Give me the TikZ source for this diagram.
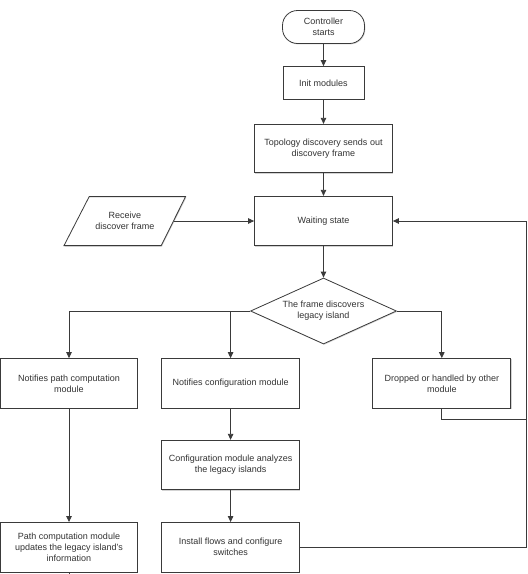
\documentclass[tikz,border=0pt]{standalone}
\usepackage{fontspec}
\setmainfont{Liberation Sans}
\usetikzlibrary{shapes.geometric,arrows.meta,shadows}
\definecolor{ln}{HTML}{3A3A3A}
\definecolor{tx}{HTML}{333333}
\begin{document}
\begin{tikzpicture}[x=1pt,y=-1pt,
  font=\fontsize{9}{11}\selectfont,
  box/.style={draw=ln,line width=0.8pt,fill=white,text=tx,align=center,inner sep=1pt,
    drop shadow={shadow xshift=0.8pt,shadow yshift=-0.9pt,opacity=0.35}},
  stepbox/.style={box,rectangle,minimum width=#1,minimum height=49.5pt},
  arr/.style={draw=ln,line width=0.8pt,-{Triangle[length=6pt,width=5.5pt]}},
  ln/.style={draw=ln,line width=0.8pt}]
\useasboundingbox (0,0) rectangle (528,574);
\node[box,rectangle,rounded corners=15pt,minimum width=82pt,minimum height=33pt] (start) at (323.5,27) {Controller\\starts};
\node[box,rectangle,minimum width=81pt,minimum height=33pt] (init) at (323.5,83) {Init modules};
\node[box,rectangle,minimum width=138pt,minimum height=48.5pt] (topo) at (323.5,148.5) {Topology discovery sends out\\discovery frame};
\node[stepbox=138pt] (wait) at (323.5,221) {Waiting state};
\path[draw=ln,line width=0.8pt,fill=white,drop shadow={shadow xshift=0.8pt,shadow yshift=-0.9pt,opacity=0.35}]
  (89.2,196.6) -- (185.6,196.6) -- (161.2,245.6) -- (64,245.6) -- cycle;
\node[rectangle,text=tx,align=center,inner sep=0pt,minimum width=97pt,minimum height=49pt] (recv) at (124.8,221) {Receive\\discover frame};
\node[box,diamond,aspect=2.2,minimum width=146pt,minimum height=66pt,inner sep=0pt] (dia) at (323.5,311) {The frame discovers\\legacy island};
\node[stepbox=137pt] (np) at (69,383.3) {Notifies path computation\\module};
\node[stepbox=138pt] (nc) at (230.6,383.3) {Notifies configuration module};
\node[stepbox=138pt] (dr) at (441.8,383.3) {Dropped or handled by other\\module};
\node[stepbox=138pt] (ca) at (230.6,465) {Configuration module analyzes\\the legacy islands};
\node[stepbox=137pt] (pu) at (69,547.2) {Path computation module\\updates the legacy island's\\information};
\node[stepbox=138pt] (inst) at (230.6,547.2) {Install flows and configure\\switches};
\coordinate (rb) at (526.5,547.2);
\coordinate (rd) at (526.5,419.2);
\coordinate (pe) at (69,580);
\draw[arr] (start) -- (init);
\draw[arr] (init) -- (topo);
\draw[arr] (topo) -- (wait);
\draw[arr] (recv.east) -- (wait.west);
\draw[arr] (wait) -- (dia);
\draw[arr] (dia.west) -| (np.north);
\draw[arr] (dia.west -| nc.north) -- (nc.north);
\draw[arr] (dia.east) -| (dr.north);
\draw[arr] (np) -- (pu);
\draw[arr] (nc) -- (ca);
\draw[arr] (ca) -- (inst);
\draw[arr] (inst.east) -- (rb) |- (wait.east);
\draw[ln] (dr.south) |- (rd);
\draw[ln] (pu.south) -- (pe);
\end{tikzpicture}
\end{document}
